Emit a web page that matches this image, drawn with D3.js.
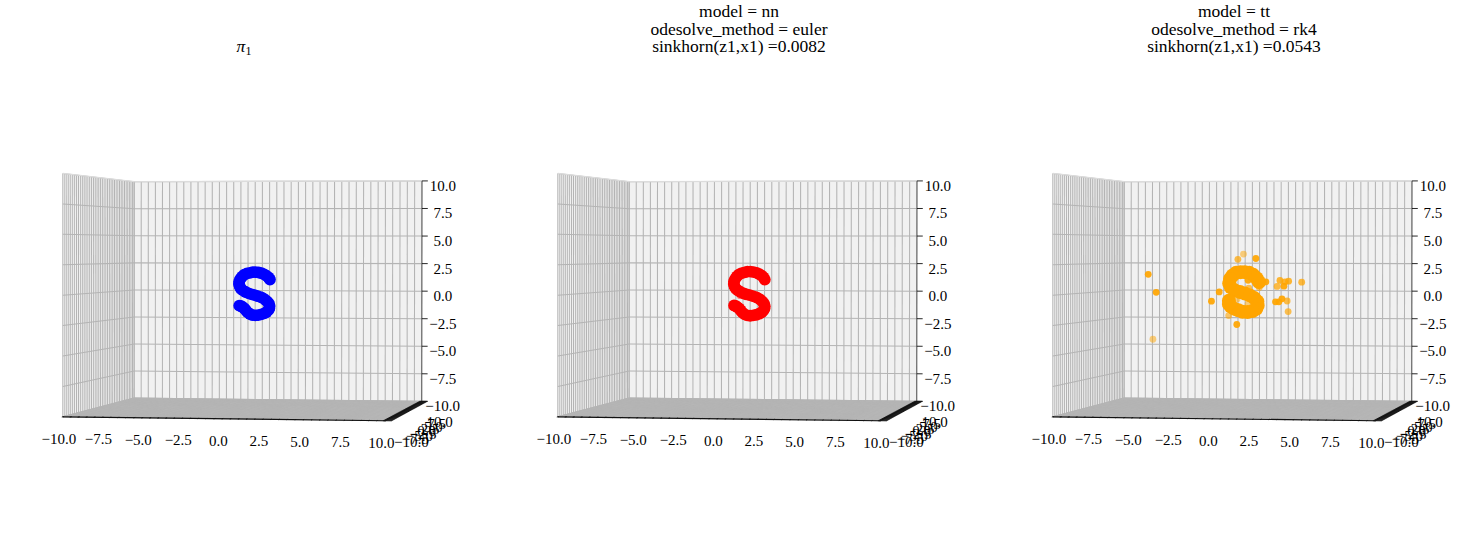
<!DOCTYPE html>
<html><head><meta charset="utf-8">
<script src="https://cdn.jsdelivr.net/npm/d3@7/dist/d3.min.js"></script>
<style>html,body{margin:0;background:#fff}svg{display:block}text{font-family:"Liberation Serif",serif;fill:#000}</style>
</head><body><svg id="c" width="1480" height="545"></svg>
<script>
// ---- axis ticks
const gridTicks = d3.range(-10, 10.25, 0.5);
const labelTicks = [-10,-7.5,-5,-2.5,0,2.5,5,7.5,10];
const fmt = v => (v<0?"\u2212":"")+Math.abs(v).toFixed(1);

// ---- titles
const titles = [
  ["\u03c0"],
  ["model = nn","odesolve_method = euler","sinkhorn(z1,x1) =0.0082"],
  ["model = tt","odesolve_method = rk4","sinkhorn(z1,x1) =0.0543"]
];

// ---- series: target
const blueX = [1.23,1.14,1.01,.86,.68,.49,.29,.09,-.08,-.28,-.46,-.61,-.72,-.79,-.81,-.76,-.68,-.55,-.37,-.17,.03,.22,.42,.62,.79,.95,1.08,1.17,1.21,1.19,1.12,1.01,.86,.66,.46,.27,.07,-.08,-.24,-.35,-.46,-.57,-.68,-.79];
const blueZ = [1.18,1.35,1.49,1.61,1.72,1.78,1.81,1.81,1.75,1.70,1.58,1.41,1.21,1.01,.78,.57,.37,.23,.09,-.03,-.11,-.17,-.26,-.34,-.46,-.60,-.75,-.92,-1.12,-1.32,-1.47,-1.64,-1.75,-1.84,-1.90,-1.93,-1.90,-1.81,-1.67,-1.49,-1.32,-1.21,-1.12,-1.09];
// ---- series: model nn
const redX = [1.22,1.14,1.02,.87,.69,.49,.28,.08,-.10,-.29,-.47,-.62,-.73,-.80,-.82,-.77,-.68,-.54,-.36,-.16,.04,.23,.43,.63,.80,.96,1.09,1.18,1.22,1.20,1.13,1.02,.86,.67,.46,.26,.06,-.10,-.25,-.36,-.47,-.58,-.69,-.80];
const redZ = [1.17,1.36,1.51,1.63,1.75,1.82,1.85,1.85,1.79,1.73,1.61,1.43,1.22,1.02,.79,.57,.36,.22,.08,-.04,-.12,-.18,-.26,-.34,-.46,-.60,-.75,-.93,-1.13,-1.34,-1.49,-1.66,-1.78,-1.87,-1.93,-1.96,-1.93,-1.84,-1.69,-1.51,-1.34,-1.22,-1.12,-1.08];
const redStrayX = [-.62];
const redStrayY = [1];
const redStrayZ = [-.33];
// ---- series: model tt, dense body
const orangeX = [1.17,1.01,.79,.53,.24,-.04,-.33,-.57,-.74,-.79,-.68,-.41,-.08,.24,.57,.86,1.06,1.08,.99,.75,.42,.09,-.19,-.46,-.68,-.81,-.81];
const orangeZ = [.95,1.29,1.58,1.75,1.81,1.81,1.75,1.52,1.21,.83,.49,.23,.09,-.03,-.20,-.43,-.72,-1.06,-1.35,-1.55,-1.64,-1.61,-1.49,-1.35,-1.18,-.95,-.66];
// ---- series: model tt, scattered points
const strayX = [-6.15,-5.62,-6.05,-.31,-.03,.96,-1.45,-1.96,1.62,2.27,2.49,2.82,3.06,2.80,3.90,2.25,2.47,2.67,2.93,2.98,-.29,-.97,.27,-.45,.45,.39,1.05];
const strayY = [0,0,1,0.5,1,0,0,0,0,0.5,0.3,0.3,0.3,0,0.4,0,0,0,0.5,0.6,0,0.8,1,1,0,0.6,0.8];
const strayZ = [1.59,.03,-4.10,2.91,3.37,2.99,.09,-.71,.98,.58,1.10,.98,1.04,.61,.95,-.74,-.74,-.48,-.68,-1.60,-2.72,-1.98,-.97,-.54,1.10,.41,.47];

// ---- projection fitted to the axes box
const norm = d3.scaleLinear().domain([-10,10]).range([-1,1]);
const box = [
  [[-1,-1, 1],[63,173]],[[-1,-1,-1],[63,417]],[[-1, 1, 1],[134,182]],[[-1, 1,-1],[134,398]],
  [[ 1, 1, 1],[422,181]],[[ 1, 1,-1],[422,401]],[[ 1,-1,-1],[385,421]]
];
function solveLS(A,b){
  const n=A[0].length, M=d3.range(n).map(i=>{
    const r=d3.range(n).map(j=>d3.sum(A,row=>row[i]*row[j]));
    r.push(d3.sum(A,(row,k)=>row[i]*b[k])); return r;});
  for(let i=0;i<n;i++){
    let p=i; for(let r=i+1;r<n;r++) if(Math.abs(M[r][i])>Math.abs(M[p][i])) p=r;
    [M[i],M[p]]=[M[p],M[i]];
    for(let r=0;r<n;r++){ if(r===i) continue; const f=M[r][i]/M[i][i];
      for(let c=i;c<=n;c++) M[r][c]-=f*M[i][c]; }
  }
  return M.map((r,i)=>r[n]/r[i]);
}
const rows=[],rhs=[];
box.forEach(([[u,v,t],[sx,sy]])=>{
  rows.push([u,v,t,1,0,0,0,0,-sx*u,-sx*v,-sx*t]); rhs.push(sx);
  rows.push([0,0,0,0,u,v,t,1,-sy*u,-sy*v,-sy*t]); rhs.push(sy);
});
const P = solveLS(rows,rhs);
function proj(x,y,z){
  const u=norm(x),v=norm(y),t=norm(z), w=P[8]*u+P[9]*v+P[10]*t+1;
  return [(P[0]*u+P[1]*v+P[2]*t+P[3])/w,(P[4]*u+P[5]*v+P[6]*t+P[7])/w];
}
const poly = pts => d3.line()(pts.map(p=>proj(...p)))+"Z";
const seg  = (a,b) => d3.line()([proj(...a),proj(...b)]);

const svg=d3.select("#c");
const panelX=d3.scaleBand().domain([0,1,2]).range([0,1485]);
const shade=d3.scaleLinear().domain([0,1]).range([.92,.5]);
const yOff=d3.scaleLinear().domain([-10,10]).range([26,18]);

function drawPanel(i){
  const g=svg.append("g").attr("transform",`translate(${panelX(i)},0)`);
  // panes
  g.append("path").attr("d",poly([[-10,-10,-10],[-10,-10,10],[-10,10,10],[-10,10,-10]])).attr("fill","#f8f8f8");
  g.append("path").attr("d",poly([[-10,10,-10],[-10,10,10],[10,10,10],[10,10,-10]])).attr("fill","#f1f1f1");
  g.append("path").attr("d",poly([[-10,-10,-10],[-10,10,-10],[10,10,-10],[10,-10,-10]])).attr("fill","#e9e9e9");
  // grid
  const grid=g.append("g").attr("stroke","#b4b4b4").attr("stroke-width",1.05).attr("fill","none");
  gridTicks.forEach(t=>{
    grid.append("path").attr("d",seg([t,-10,-10],[t,10,-10]));
    grid.append("path").attr("d",seg([t,10,-10],[t,10,10]));
    grid.append("path").attr("d",seg([-10,t,-10],[10,t,-10]));
    grid.append("path").attr("d",seg([-10,t,-10],[-10,t,10]));
  });
  labelTicks.forEach(t=>{
    grid.append("path").attr("d",seg([-10,-10,t],[-10,10,t]));
    grid.append("path").attr("d",seg([-10,10,t],[10,10,t]));
  });
  // pane edges
  const edge=g.append("g").attr("stroke","#dcdcdc").attr("stroke-width",1.2).attr("fill","none");
  edge.append("path").attr("d",seg([-10,-10,10],[-10,10,10]));
  edge.append("path").attr("d",seg([-10,10,10],[10,10,10]));
  // axis lines + ticks
  const ax=g.append("g").attr("stroke","#111").attr("stroke-width",.9).attr("fill","none");
  ax.append("path").attr("d",seg([-10,-10,-10],[10,-10,-10])).attr("stroke-width",1.2);
  ax.append("path").attr("d",seg([10,-10,-10],[10,10,-10]));
  ax.append("path").attr("d",seg([10,10,-10],[10,10,10])).attr("stroke","#555");
  gridTicks.forEach(t=>{
    ax.append("path").attr("d",seg([t,-10.25,-10],[t,-9.75,-10]));
    ax.append("path").attr("d",seg([9.85,t,-10],[10.4,t,-10]));
  });
  labelTicks.forEach(t=>{
    ax.append("path").attr("d",seg([10,10,t],[10.4,10,t]));
  });
  // labels
  const lab=g.append("g").attr("font-size",15).attr("text-anchor","middle");
  labelTicks.forEach(t=>{
    const a=proj(t,-10,-10), b=proj(10,t,-10), c=proj(10,10,t);
    lab.append("text").attr("x",a[0]-4).attr("y",a[1]+27).text(fmt(t));
    lab.append("text").attr("x",b[0]+yOff(t)).attr("y",b[1]+26).text(fmt(t));
    lab.append("text").attr("x",c[0]+21).attr("y",c[1]+10).text(fmt(t));
  });
  // titles
  const tt=g.append("g").attr("font-size",17.5).attr("text-anchor","middle");
  if(i===0){
    const t=tt.append("text").attr("x",244).attr("y",52);
    t.append("tspan").attr("font-style","italic").text(titles[0][0]);
    t.append("tspan").attr("font-size",12).attr("dy",3).text("1");
  } else titles[i].forEach((s,k)=>tt.append("text").attr("x",244).attr("y",17+k*17.5).text(s));
  return g;
}
const dots=(g,xs,ys,zs,r,color,op)=>{
  g.append("g").selectAll("circle").data(xs).join("circle")
    .attr("cx",(d,k)=>proj(d,ys?ys[k]:0,zs[k])[0])
    .attr("cy",(d,k)=>proj(d,ys?ys[k]:0,zs[k])[1])
    .attr("r",r).attr("fill",color)
    .attr("fill-opacity",(d,k)=>op?op(k):1);
};
const g0=drawPanel(0), g1=drawPanel(1), g2=drawPanel(2);
dots(g0,blueX,null,blueZ,5.9,"#0000ff");
dots(g1,redX,null,redZ,5.9,"#ff0000");
dots(g1,redStrayX,redStrayY,redStrayZ,2.5,"#ff0000",k=>shade(redStrayY[k]));
dots(g2,strayX,strayY,strayZ,3.4,"#ffa500",k=>shade(strayY[k]));
dots(g2,orangeX,null,orangeZ,7,"#ffa500");
</script></body></html>
